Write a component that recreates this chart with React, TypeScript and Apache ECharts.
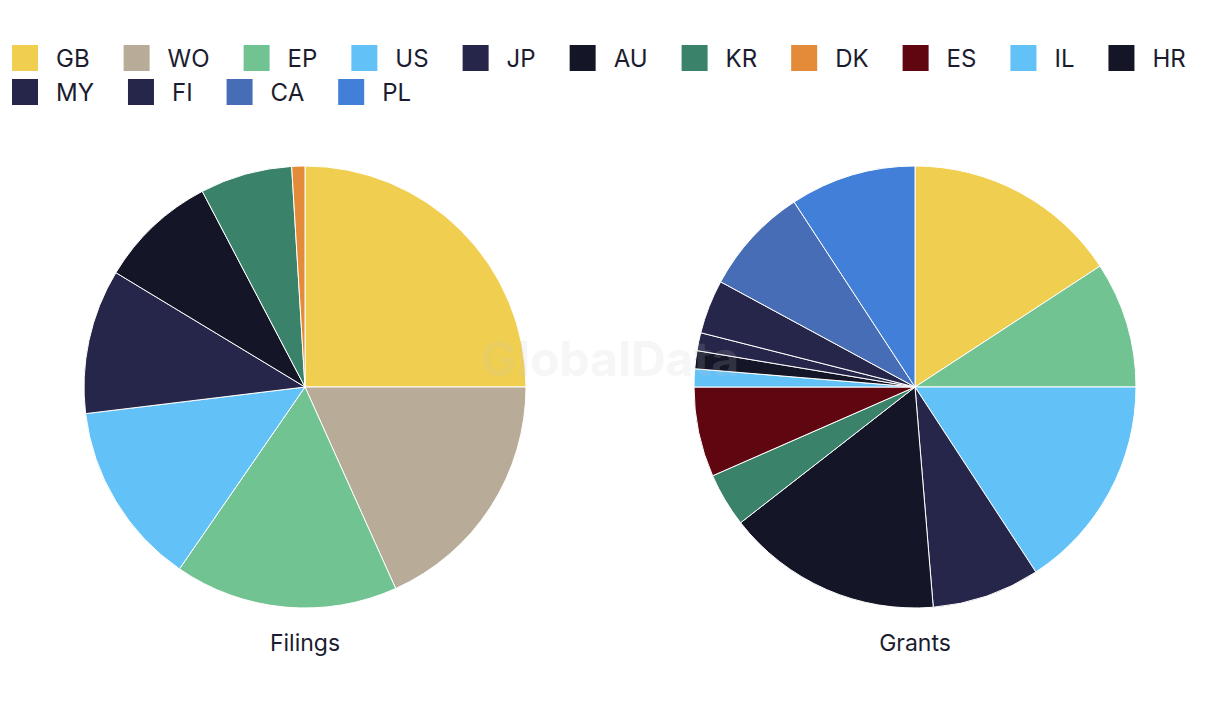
import React, { useEffect, useRef } from "react";
import * as echarts from "echarts";

const legendRow1 = ["GB", "WO", "EP", "US", "JP", "AU", "KR", "DK", "ES", "IL", "HR"];
const legendRow2 = ["MY", "FI", "CA", "PL"];
const colorNames = ["GB", "WO", "EP", "US", "JP", "AU", "KR", "DK", "ES", "IL", "HR", "MY", "FI", "CA", "PL"];
const colorValues = ["#F0CE4F", "#B8AB98", "#72C392", "#62C2F8", "#26264A", "#141628", "#3A836A", "#E38B38", "#5F0610", "#62C2F8", "#141628", "#26264A", "#26264A", "#466DB6", "#417FD8"];

const filingsCategories = ["GB", "WO", "EP", "US", "JP", "AU", "KR", "DK"];
const filingsValues = [26, 19, 17, 14, 11, 9, 7, 1];

const grantsCategories = ["GB", "EP", "US", "JP", "AU", "KR", "ES", "IL", "HR", "MY", "FI", "CA", "PL"];
const grantsValues = [12, 7, 12, 6, 12, 3, 5, 1, 1, 1, 3, 6, 7];

const pieTitles = ["Filings", "Grants"];

const colorOf = (n: string) => colorValues[colorNames.indexOf(n)];
const TEXT = "#1b1c30";
const FONT = "Inter, 'Noto Sans', sans-serif";

export default function App() {
  const ref = useRef<HTMLDivElement>(null);
  useEffect(() => {
    document.body.style.margin = "0";
    const chart = echarts.init(ref.current!, null, { renderer: "svg" });
    const legendCommon = {
      orient: "horizontal" as const,
      left: 10,
      padding: 0,
      itemWidth: 28,
      itemHeight: 28,
      itemGap: 32,
      icon: "rect",
      selectedMode: false,
      textStyle: { fontSize: 24, color: TEXT, fontFamily: FONT, padding: [0, 0, 0, 12] },
    };
    const mkPie = (cats: string[], vals: number[], cx: number) => ({
      type: "pie",
      radius: 221,
      center: [cx, 387],
      startAngle: 90,
      clockwise: true,
      label: { show: false },
      labelLine: { show: false },
      emphasis: { disabled: true },
      itemStyle: { borderColor: "#ffffff", borderWidth: 1 },
      data: cats.map((c, i) => ({ name: c, value: vals[i], itemStyle: { color: colorOf(c) } })),
    });
    const titleStyle = { fontSize: 23, fontWeight: "normal", color: TEXT, fontFamily: FONT };
    chart.setOption({
      animation: false,
      color: colorValues,
      legend: [
        { ...legendCommon, top: 43, data: legendRow1 },
        { ...legendCommon, top: 77, data: legendRow2 },
      ],
      title: [
        { text: pieTitles[0], left: 305, top: 631, padding: 0, textAlign: "center", textStyle: titleStyle },
        { text: pieTitles[1], left: 915, top: 631, padding: 0, textAlign: "center", textStyle: titleStyle },
      ],
      graphic: [
        {
          type: "text",
          left: "center",
          top: 334,
          z: 100,
          silent: true,
          style: { text: "GlobalData", fontSize: 48, fontWeight: "bold", fontFamily: FONT, fill: "rgba(200,200,200,0.18)" },
        },
      ],
      series: [mkPie(filingsCategories, filingsValues, 305), mkPie(grantsCategories, grantsValues, 915)],
    });
    return () => chart.dispose();
  }, []);
  return <div ref={ref} style={{ width: 1220, height: 720 }} />;
}
